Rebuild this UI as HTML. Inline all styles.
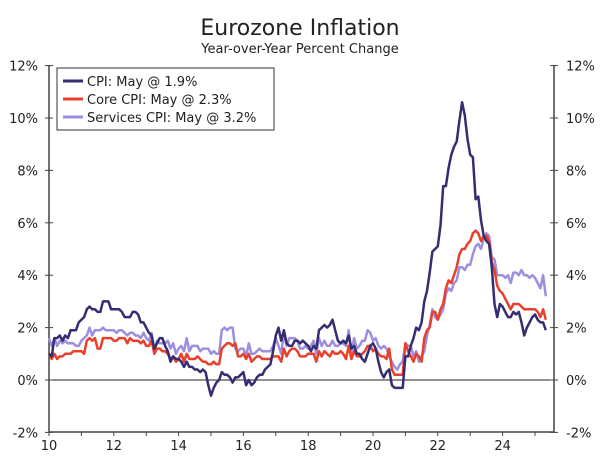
<!DOCTYPE html>
<html><head><meta charset="utf-8"><style>
body{margin:0;background:#fff;width:600px;height:460px;overflow:hidden}
svg text{font-family:"DejaVu Sans","Liberation Sans",sans-serif;fill:#222}
</style></head><body>
<svg id="c" width="600" height="460">
<text x="300" y="35" text-anchor="middle" font-size="22">Eurozone Inflation</text>
<text x="300" y="53" text-anchor="middle" font-size="13">Year-over-Year Percent Change</text>
<g id="axes"></g><g id="series"></g>
<g>
<rect x="57" y="68" width="217" height="62" fill="#fff" stroke="#333" stroke-width="1"/>
<line x1="63" y1="81" x2="83" y2="81" stroke="#342d71" stroke-width="3"/>
<text x="87" y="86" font-size="13">CPI: May @ 1.9%</text>
<line x1="63" y1="99" x2="83" y2="99" stroke="#e8402a" stroke-width="3"/>
<text x="87" y="104" font-size="13">Core CPI: May @ 2.3%</text>
<line x1="63" y1="117" x2="83" y2="117" stroke="#9d8fe0" stroke-width="3"/>
<text x="87" y="122" font-size="13">Services CPI: May @ 3.2%</text>
</g>
</svg>
<script>
const startYear = 2010;
const yTicks = [-2,0,2,4,6,8,10,12];
const xTickYears = [10,12,14,16,18,20,22,24];
const cpi = [1.0,0.9,1.6,1.6,1.7,1.5,1.7,1.6,1.9,1.9,1.9,2.2,
2.3,2.4,2.7,2.8,2.7,2.7,2.6,2.6,3.0,3.0,3.0,2.7,
2.7,2.7,2.7,2.6,2.4,2.4,2.4,2.6,2.6,2.5,2.2,2.2,
2.0,1.8,1.7,1.2,1.4,1.6,1.6,1.3,1.1,0.7,0.9,0.8,
0.8,0.7,0.5,0.7,0.5,0.5,0.4,0.4,0.3,0.4,0.3,-0.2,
-0.6,-0.3,-0.1,0.0,0.3,0.2,0.2,0.1,-0.1,0.1,0.1,0.2,
0.3,-0.2,0.0,-0.2,-0.1,0.1,0.2,0.2,0.4,0.5,0.6,1.1,
1.7,2.0,1.5,1.9,1.4,1.3,1.3,1.5,1.5,1.4,1.5,1.4,
1.3,1.1,1.3,1.2,1.9,2.0,2.1,2.0,2.1,2.3,1.9,1.5,
1.4,1.5,1.4,1.7,1.2,1.3,1.0,1.0,0.8,0.7,1.0,1.3,
1.4,1.2,0.7,0.3,0.1,0.3,0.4,-0.2,-0.3,-0.3,-0.3,-0.3,
0.9,0.9,1.3,1.6,2.0,1.9,2.2,3.0,3.4,4.1,4.9,5.0,
5.1,5.9,7.4,7.4,8.1,8.6,8.9,9.1,9.9,10.6,10.1,9.2,
8.6,8.5,6.9,7.0,6.1,5.5,5.3,5.2,4.3,2.9,2.4,2.9,
2.8,2.6,2.4,2.4,2.6,2.5,2.6,2.2,1.7,2.0,2.2,2.4,
2.5,2.3,2.2,2.2,1.9];
const core = [1.0,0.8,1.0,0.8,0.9,0.9,1.0,1.0,1.0,1.1,1.1,1.1,
1.1,1.0,1.5,1.6,1.5,1.6,1.2,1.2,1.6,1.6,1.6,1.6,
1.5,1.5,1.6,1.6,1.6,1.4,1.6,1.5,1.5,1.5,1.4,1.5,
1.3,1.3,1.5,1.0,1.2,1.2,1.1,1.1,1.0,0.8,0.9,0.7,
0.8,1.0,0.7,1.0,0.8,0.8,0.8,0.9,0.8,0.7,0.7,0.6,
0.6,0.7,0.6,0.6,1.2,1.3,1.4,1.4,1.3,1.4,0.9,0.9,
1.0,0.8,1.0,0.7,0.8,0.9,0.9,0.8,0.8,0.8,0.8,0.9,
0.9,0.9,0.7,1.2,0.9,1.1,1.2,1.2,1.1,0.9,0.9,0.9,
1.0,1.0,1.0,0.7,1.1,0.9,1.1,1.0,0.9,1.1,1.0,1.0,
1.1,1.0,0.8,1.3,0.8,1.1,0.9,0.9,1.0,1.1,1.3,1.3,
1.1,1.2,1.0,0.9,0.9,0.8,1.2,0.4,0.2,0.2,0.2,0.2,
1.4,1.1,0.9,0.7,1.0,0.9,0.7,1.6,1.9,2.0,2.6,2.6,
2.3,2.7,2.9,3.5,3.8,3.7,4.0,4.3,4.8,5.0,5.0,5.2,
5.3,5.6,5.7,5.6,5.3,5.5,5.5,5.3,4.5,4.2,3.6,3.4,
3.3,3.1,2.9,2.7,2.9,2.9,2.9,2.8,2.7,2.7,2.7,2.7,
2.7,2.6,2.4,2.7,2.3];
const services = [1.6,1.3,1.6,1.3,1.5,1.4,1.5,1.4,1.4,1.4,1.3,1.3,
1.5,1.6,1.7,2.0,1.7,1.9,1.9,1.9,2.0,1.9,1.9,1.9,
1.9,1.8,1.9,1.9,1.8,1.7,1.8,1.8,1.7,1.7,1.6,1.8,
1.6,1.5,1.8,1.1,1.5,1.4,1.4,1.4,1.5,1.2,1.4,1.0,
1.2,1.3,1.1,1.6,1.1,1.3,1.3,1.3,1.1,1.2,1.2,1.2,
1.0,1.1,1.0,1.0,1.9,2.0,1.9,2.0,2.0,1.2,1.1,1.2,
1.2,0.9,1.4,1.0,1.0,1.1,1.2,1.1,1.1,1.1,1.1,1.3,
1.6,1.3,1.0,1.8,1.3,1.6,1.6,1.6,1.5,1.2,1.2,1.3,
1.2,1.3,1.5,1.0,1.6,1.3,1.5,1.3,1.3,1.5,1.3,1.3,
1.4,1.4,1.3,1.9,1.0,1.6,1.2,1.3,1.5,1.5,1.9,1.8,
1.5,1.6,1.3,1.2,1.3,1.2,0.9,0.7,0.5,0.4,0.6,0.7,
1.4,1.3,1.3,0.9,1.1,0.7,0.9,1.1,1.7,2.1,2.7,2.4,
2.3,2.5,2.7,3.3,3.5,3.4,3.7,3.8,4.3,4.3,4.2,4.4,
4.4,4.8,5.1,5.2,5.0,5.4,5.6,5.5,4.7,4.6,4.0,4.0,
4.0,3.9,4.0,3.7,4.1,4.1,4.0,4.2,4.0,4.0,3.9,4.0,
3.9,3.7,3.5,4.0,3.2];
const L=49,R=554,T=65,B=432;
const pxYear=32.4;
const xs=i=>L+(i/12)*pxYear;
const xYear=yy=>L+(yy-10)*pxYear;
const y=v=>380-26.2*v;
const NS='http://www.w3.org/2000/svg';
function mk(tag,attrs,parent){const e=document.createElementNS(NS,tag);for(const k in attrs)e.setAttribute(k,attrs[k]);parent.appendChild(e);return e;}
const ax=document.getElementById('axes');
let e;
e=mk('line',{x1:L,y1:T,x2:L,y2:B,stroke:'#444','stroke-width':1.5},ax);


e=mk('line',{x1:R,y1:T,x2:R,y2:B,stroke:'#444','stroke-width':1.5},ax);


e=mk('line',{x1:L,y1:B,x2:R,y2:B,stroke:'#444','stroke-width':1.5},ax);


e=mk('line',{x1:L,y1:y(0),x2:R,y2:y(0),stroke:'#222','stroke-width':1},ax);


yTicks.forEach(v=>{
 mk('line',{x1:L-4,y1:y(v),x2:L+4,y2:y(v),stroke:'#444'},ax);
 mk('line',{x1:R-4,y1:y(v),x2:R+4,y2:y(v),stroke:'#444'},ax);
 let t=mk('text',{x:38,y:y(v)+5,'text-anchor':'end','font-size':13},ax);t.textContent=v+'%';
 
 
 t=mk('text',{x:566,y:y(v)+5,'text-anchor':'start','font-size':13},ax);t.textContent=v+'%';
 
 
});
for(let yy=10;yy<=25;yy++){mk('line',{x1:xYear(yy),y1:B,x2:xYear(yy),y2:B+4,stroke:'#444'},ax);}
xTickYears.forEach(yy=>{
 const t=mk('text',{x:xYear(yy),y:B+18,'text-anchor':'middle','font-size':13},ax);t.textContent=yy;
 
 
});
const sg=document.getElementById('series');
[[services,'#9d8fe0','services-cpi-line'],[core,'#e8402a','core-cpi-line'],[cpi,'#342d71','cpi-line']].forEach(([d,c,n])=>{
 const p=mk('path',{d:d.map((v,i)=>(i?'L':'M')+xs(i).toFixed(1)+','+y(v).toFixed(1)).join(''),fill:'none',stroke:c,'stroke-width':2.5,'stroke-linejoin':'round'},sg);
 
 
});
</script>
</body></html>
